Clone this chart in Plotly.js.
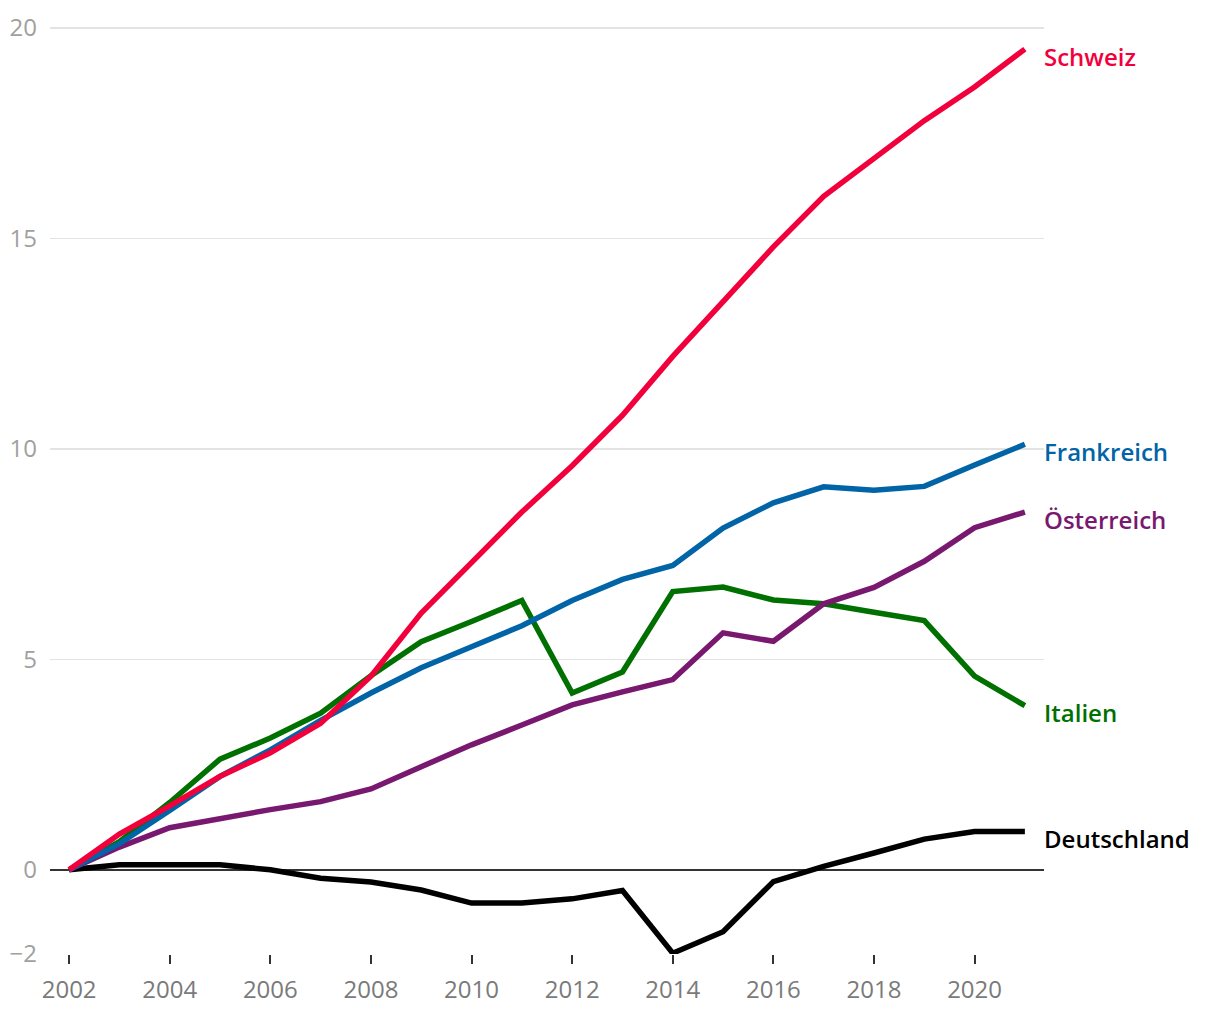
<!DOCTYPE html>
<html>
<head>
<meta charset="utf-8">
<script src="https://cdn.plot.ly/plotly-3.0.1.min.js"></script>
<style>
html,body{margin:0;padding:0;background:#fff;}
#chart{width:1220px;height:1020px;}
</style>
</head>
<body>
<div id="chart"></div>
<script>
const years = [2002,2003,2004,2005,2006,2007,2008,2009,2010,2011,2012,2013,2014,2015,2016,2017,2018,2019,2020,2021];
const schweiz     = [0,0.85,1.52,2.22,2.78,3.48,4.6,6.1,7.3,8.5,9.6,10.8,12.2,13.5,14.8,16.0,16.9,17.8,18.6,19.5];
const frankreich  = [0,0.62,1.41,2.22,2.85,3.55,4.2,4.8,5.3,5.8,6.4,6.9,7.23,8.12,8.72,9.1,9.02,9.11,9.62,10.11];
const oesterreich = [0,0.54,1.0,1.22,1.43,1.62,1.92,2.45,2.97,3.44,3.92,4.23,4.52,5.63,5.43,6.32,6.71,7.33,8.13,8.5];
const italien     = [0,0.67,1.6,2.63,3.13,3.72,4.61,5.42,5.9,6.4,4.2,4.7,6.61,6.72,6.41,6.32,6.12,5.92,4.6,3.9];
const deutschland = [0,0.12,0.12,0.12,0.0,-0.2,-0.29,-0.48,-0.79,-0.79,-0.69,-0.49,-1.98,-1.47,-0.28,0.08,0.4,0.73,0.91,0.91];

const seriesNames  = ['Deutschland','Italien','Österreich','Frankreich','Schweiz'];
const seriesValues = [deutschland, italien, oesterreich, frankreich, schweiz];
const seriesColors = ['#000000','#007000','#78186f','#0064a6','#f2003c'];

const yTickVals = [-2,0,5,10,15,20];
const yTickText = ['\u22122','0','5','10','15','20'];
const xTickVals = [2002,2004,2006,2008,2010,2012,2014,2016,2018,2020];

const traces = seriesNames.map((n,i)=>({
  x: years, y: seriesValues[i], type:'scatter', mode:'lines', name:n,
  line:{color:seriesColors[i], width:5.5}, hoverinfo:'skip'
}));

const annotations = seriesNames.map((n,i)=>({
  x: years[years.length-1], y: seriesValues[i][seriesValues[i].length-1],
  xref:'x', yref:'y', text:n, showarrow:false, xanchor:'left', yanchor:'middle',
  xshift:17, yshift:-7,
  font:{family:'Open Sans', size:24, color:seriesColors[i], weight:600}
}));

const layout = {
  width:1220, height:1020,
  margin:{l:50, r:176, t:7, b:66},
  paper_bgcolor:'#fff', plot_bgcolor:'#fff',
  showlegend:false,
  font:{family:'Open Sans'},
  xaxis:{
    range:[2001.62, 2021.38], tickvals:xTickVals, showgrid:false, zeroline:false,
    ticks:'outside', ticklen:9, tickwidth:2, tickcolor:'#333', ticklabelstandoff:5,
    tickfont:{family:'Open Sans', size:24, color:'#7a7a7a'}, showline:false
  },
  yaxis:{
    range:[-2, 20.5], tickvals:yTickVals, ticktext:yTickText,
    showgrid:true, gridcolor:'#e3e3e3', gridwidth:1.5,
    zeroline:true, zerolinecolor:'#333', zerolinewidth:1.5,
    ticks:'', ticklabelstandoff:12,
    tickfont:{family:'Open Sans', size:24, color:'#a0a0a0'}
  },
  annotations: annotations
};

Plotly.newPlot('chart', traces, layout, {displayModeBar:false, staticPlot:true});
</script>
</body>
</html>
